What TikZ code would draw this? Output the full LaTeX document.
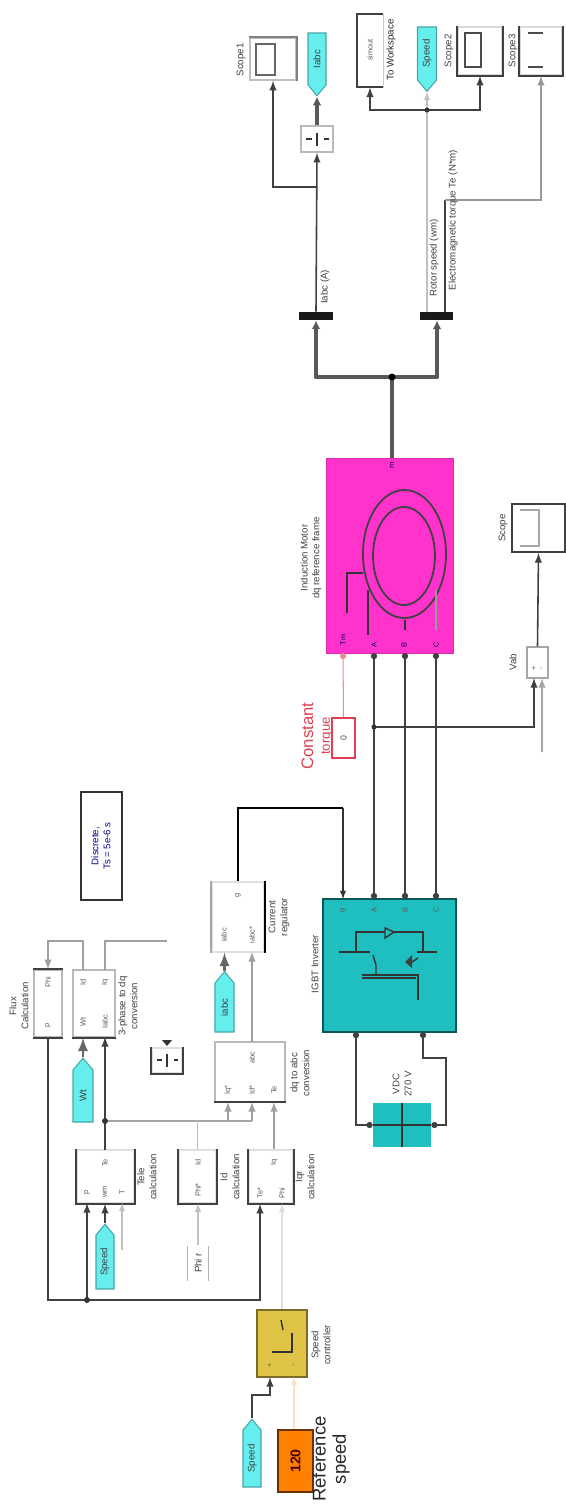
\documentclass[tikz,border=0pt]{standalone}
\usepackage{fontspec}
\setmainfont{Liberation Sans}
\usetikzlibrary{arrows.meta,shapes.symbols}
\definecolor{tagcyan}{HTML}{66EEEE}
\definecolor{igbtteal}{HTML}{1FBFBF}
\definecolor{motorpink}{HTML}{FF33CC}
\definecolor{ctlyellow}{HTML}{E0C448}
\definecolor{reforange}{HTML}{FF8000}
\definecolor{trqred}{HTML}{E04050}
\tikzset{
	sized/.style 2 args={minimum width=#1*0.02cm, minimum height=#2*0.02cm, inner sep=0pt},
	block/.style={draw=gray!55, line width=0.8pt, fill=white},
	edge/.style={draw=black!75, line width=1pt},
	tagbox/.style={shape=signal, signal from=nowhere, signal pointer angle=80, fill=tagcyan, draw=tagcyan!70!black, line width=0.6pt, inner sep=0pt},
	lab/.style={rotate=90, align=center, font=\fontsize{5.5}{6.8}\selectfont, text=black!75},
	portlab/.style={rotate=90, font=\fontsize{4.2}{5}\selectfont, text=black!65},
	wire/.style={->, line width=0.9pt, draw=black!75},
	faint/.style={->, line width=0.6pt, draw=gray!50},
	plainwire/.style={line width=0.9pt, draw=black!75},
	buswire/.style={line width=2.4pt, draw=black!65},
	powerwire/.style={{Circle[length=3.5pt]}-{Circle[length=3.5pt]}, line width=1pt, draw=black!75},
	sym/.style={line width=0.8pt, draw=black!80},
}
\begin{document}
\begin{tikzpicture}[>=latex, x=0.02cm, y=-0.02cm]
	\useasboundingbox (0,0) rectangle (565,1505);

	% 1. speed reference and controller
	\node[tagbox, signal to=north, sized={18}{57}, label={[lab]center:Speed}] (spdin) at (252,1458.5) {};
	\node[draw=black!60!reforange, fill=reforange, line width=1pt, sized={35}{62}] (refspd) at (295.5,1461) {};
	\node[rotate=90, font=\fontsize{8}{9}\bfseries\selectfont, text=black!70!red] (reftxt) at (295.5,1461) {120};
	\node[rotate=90, align=center, font=\fontsize{10.5}{11.5}\selectfont, text=black!85] (reflab) at (331,1459) {Reference\\speed};
	\node[draw=black!45!ctlyellow, fill=ctlyellow, line width=1pt, sized={50}{67}] (ctl) at (282,1343.5) {};
	\draw[sym] (272,1352) -- (292,1352) -- (292,1333);
	\draw[sym] (281,1320) -- (283,1330);
	\node[lab] (ctllab) at (321,1345) {Speed\\controller};
	\coordinate (ctlin1) at (270,1377);
	\coordinate (ctlin2) at (294,1377);
	\coordinate (spdkink) at (270,1395);
	\draw[wire] (spdin.north) |- (spdkink) -- (ctlin1);
	\draw[faint, draw=orange!25] (refspd.north -| ctlin2) -- (ctlin2);

	% 2. calculation blocks
	\node[block, draw=gray!25, sized={57}{53}] (tele) at (105.5,1176.5) {};
	\draw[edge] (tele.north west) -- (tele.south west) -- (tele.south east) -- (tele.north east);
	\node[block, draw=gray!25, sized={37}{53}] (idcalc) at (197.5,1176.5) {};
	\draw[edge] (idcalc.north west) -- (idcalc.south west) -- (idcalc.south east) -- (idcalc.north east);
	\node[block, draw=gray!25, sized={44}{53}] (iqcalc) at (271,1176.5) {};
	\draw[edge] (iqcalc.north west) -- (iqcalc.south west) -- (iqcalc.south east) -- (iqcalc.north east);
	\node[lab] (telelab) at (147,1177) {Tele\\calculation};
	\node[lab] (idlab) at (230,1177) {Id\\calculation};
	\node[lab] (iqlab) at (305,1177) {Iqr\\calculation};

	\node[block, sized={70}{60}] (dqabc) at (250,1072) {};
	\draw[edge] (214,1102) -- (286,1102);
	\node[lab] (dqlab) at (300,1073) {dq to abc\\conversion};
	\node[block, draw=gray!25, sized={52}{70}] (curreg) at (238,917) {};
	\draw[edge, draw=gray!70] (curreg.north west) -- (curreg.south west);
	\draw[edge, draw=black] (curreg.north east) -- (curreg.south east);
	\node[lab] (curlab) at (279,917) {Current\\regulator};

	\node[block, sized={28}{67}] (flux) at (48,1003.5) {};
	\draw[edge] (flux.north west) -- (flux.north east);
	\draw[edge] (flux.south west) -- (flux.south east);
	\node[lab] (fluxlab) at (19,1006) {Flux\\Calculation};
	\node[block, sized={42}{67}] (conv) at (94,1003.5) {};
	\draw[edge] (conv.south west) -- (conv.south east);
	\node[lab] (convlab) at (128,1006) {3-phase to dq\\conversion};

	\node[draw=black!80, line width=1pt, sized={41}{108}] (info) at (101.5,846) {};
	\node[lab, text=blue!60!black] (infotxt) at (101,846) {Discrete,\\Ts = 5e-6 s};

	\node[block, draw=gray!25, sized={30}{25}] (smallblk) at (167,1060.5) {};
	\draw[edge] (smallblk.north west) -- (smallblk.south west) -- (smallblk.south east) -- (smallblk.north east);
	\draw[sym] (157,1060) -- (162,1060) (167,1054) -- (167,1067) (174,1060) -- (178,1060);
	\fill[black!80] (167,1046) -- (162,1040) -- (172,1040) -- cycle;

	\node[draw=gray!60, fill=white, sized={21}{37}] (fluxref) at (198,1263.5) {};
	\draw[draw=white, line width=2pt] (fluxref.north west) -- (fluxref.north east);
	\draw[draw=white, line width=2pt] (fluxref.south west) -- (fluxref.south east);
	\node[lab] (fluxreftxt) at (198,1263) {Phi r};

	% 3. tags on the control side
	\node[tagbox, signal to=north, sized={18}{54}, label={[lab]center:Speed}] (spdtele) at (105,1262) {};
	\node[tagbox, signal to=north, sized={20}{52}, label={[lab]center:Wt}] (thetatag) at (83,1096) {};
	\node[tagbox, signal to=north, sized={19}{49}, label={[lab]center:iabc}] (abctag) at (224.5,1007.5) {};

	% 4. control wiring
	\coordinate (busturn) at (260,1300);
	\coordinate (teleout) at (105,1150);
	\coordinate (convin2) at (105,1037);
	\coordinate (convout1) at (83,970);
	\coordinate (convout2) at (105,970);
	\coordinate (convturn1) at (83,941);
	\coordinate (convturn2) at (167,941);
	\coordinate (tejoin) at (105,1121);
	\coordinate (tejoinend) at (252,1121);
	\coordinate (dqin1) at (228,1102);
	\coordinate (dqin2) at (252,1102);
	\coordinate (dqin3) at (274,1102);
	\coordinate (dqout) at (252,1042);
	\coordinate (curin2) at (252,952);
	\coordinate (igbtgate) at (343,899);
	\coordinate (gateturn) at (343,808);

	\draw[wire] (flux.south) |- (busturn) -- (busturn |- iqcalc.south);
	\draw[wire] (87,1300) -- (87,1203);
	\fill[black!80] (87,1300) circle (3);
	\draw[wire] (spdtele.north) -- (teleout |- tele.south);
	\draw[faint] (122,1250) -- (122,1203);
	\draw[wire, line width=1.6pt, draw=black!60] (thetatag.north) -- (thetatag.north |- flux.south);
	\draw[wire] (teleout) -- (convin2);
	\draw[plainwire, draw=gray!70] (tejoin) -- (tejoinend);
	\fill[black!80] (tejoin) circle (3);
	\draw[wire, draw=gray!75] (228,1121) -- (dqin1);
	\draw[wire, draw=gray!75] (tejoinend) -- (dqin2);
	\draw[faint, -] (idcalc.north) -- (idcalc.north |- tejoin);
	\draw[wire, draw=gray!75] (dqin3 |- iqcalc.north) -- (dqin3);
	\draw[faint] (fluxref.north) -- (fluxref.north |- idcalc.south);
	\draw[faint, draw=gray!25] (ctl.north) -- (ctl.north |- iqcalc.south);
	\draw[wire, draw=gray!75] (convout1) |- (convturn1) -| (flux.north);
	\draw[plainwire, draw=gray!75] (convout2) |- (convturn2);
	\draw[wire, line width=1.6pt, draw=black!60] (abctag.north) -- (abctag.north |- curreg.south);
	\draw[wire, draw=gray!75] (dqout) -- (curin2);
	\draw[plainwire, draw=black] (curreg.north) |- (gateturn);
	\draw[faint, draw=black!80] (gateturn) -- (igbtgate);

	% 5. inverter and dc source
	\node[draw=black!55!igbtteal, fill=igbtteal, line width=0.8pt, sized={133}{133}] (igbt) at (389.5,965.5) {};
	\draw[sym] (339,952) -- (370,952) (417,952) -- (437,952) (356,952) -- (356,932) -- (423,932) -- (423,952);
	\draw[sym, fill=igbtteal] (385,928) -- (394,932) -- (385,938) -- cycle;
	\draw[sym] (373,955) -- (376,965) -- (376,974);
	\draw[sym] (362,975) -- (418,975) -- (418,1000) (362,978) -- (416,978);
	\fill[black!75] (405,962) -- (412,955) -- (412,968) -- cycle;
	\draw[sym] (412,962) -- (418,958);
	\node[lab] (igbtlab) at (315,964) {IGBT Inverter};
	\node[draw=none, fill=igbtteal, sized={58}{44}] (vdc) at (402,1125) {};
	\draw[sym] (vdc.north) -- (vdc.south);
	\draw[sym] (vdc.west) -- (vdc.east);
	\node[lab] (vdclab) at (402,1084) {VDC\\270 V};
	\coordinate (igbtneg) at (356,1032);
	\coordinate (igbtpos) at (423,1032);
	\coordinate (posturn) at (446,1058);
	\draw[powerwire] (igbtneg) |- (vdc.west);
	\draw[powerwire] (igbtpos) |- (posturn) |- (vdc.east);

	% 6. motor
	\node[draw=motorpink!85!black, fill=motorpink, sized={127}{195}] (motor) at (389.5,555.5) {};
	\draw[sym, line width=1pt, draw=black!75] (404.5,554) ellipse (41.5 and 64);
	\draw[sym, line width=1pt, draw=black!75] (404,556) ellipse (31 and 49);
	\draw[sym] (347,613) -- (347,573) -- (363,573);
	\draw[sym] (368,590) -- (368,635);
	\draw[sym] (405,620) -- (405,630);
	\draw[sym, draw=black!40] (436,590) -- (436,630);
	\foreach \px/\py/\ptxt [count=\i] in {343/640/Tm, 374/645/A, 404/645/B, 436/645/C, 392/465/m}
		\node[portlab, text=black!70!blue] (mport\i) at (\px,\py) {\ptxt};
	\node[lab] (motorlab) at (311,558) {Induction Motor\\dq reference frame};
	\node[draw=trqred, line width=1pt, fill=white, sized={23}{40}] (torque) at (343.5,738) {};
	\node[rotate=90, font=\fontsize{5}{6}\selectfont, text=black!70] (torquetxt) at (343.5,738) {0};
	\node[rotate=90, align=center, text=trqred, font=\fontsize{9.5}{10.5}\selectfont] (torquelab) at (317,736) {Constant\\[-1pt]{\fontsize{7.5}{8}\selectfont torque}};
	\coordinate (tmport) at (343,653);
	\draw[faint, draw=trqred!60, {Circle[length=0pt]}-{Circle[length=3.5pt]}] (torque.north) -- (tmport);

	% 7. motor to inverter, line voltage scope
	\foreach \px [count=\i] in {374,405,436} {
		\coordinate (mo\i) at (\px,653);
		\coordinate (ig\i) at (\px,899);
		\draw[powerwire] (mo\i) -- (ig\i);
	}
	\node[block, draw=gray!70, sized={21}{31}] (vab) at (537.5,662.5) {};
	\node[lab] (vablab) at (513,662) {Vab};
	\node[draw=black!75, line width=1pt, fill=white, sized={53}{48}] (scopea) at (538.5,528) {};
	\draw[sym, draw=gray!70] (520,510) -- (539,510) -- (539,546) -- (520,546);
	\node[lab] (scopealab) at (503,528) {Scope};
	\coordinate (vabin1) at (534,678);
	\coordinate (vabin2) at (542,678);
	\coordinate (vabjoin) at (374,727);
	\coordinate (vabfree) at (542,752);
	\draw[wire] (vabjoin) -| (vabin1);
	\fill[black!80] (vabjoin) circle (2.5);
	\draw[wire, draw=gray!70] (vabfree) -- (vabin2);
	\draw[wire] (vab.north) -- (scopea.south);

	% 8. outputs of the motor
	\node[fill=black!90, sized={34}{8}] (demuxa) at (316,316) {};
	\node[fill=black!90, sized={33}{8}] (demuxb) at (436.5,316) {};
	\coordinate (motorout) at (392,458);
	\coordinate (busmid) at (392,377);
	\coordinate (busa) at (316,377);
	\coordinate (busb) at (437,377);
	\draw[buswire] (motorout) -- (busmid);
	\draw[buswire, line cap=round] (busa) -- (busb);
	\draw[buswire, -{Latex[length=5pt,width=5pt]}] (busa) -- (demuxa.south);
	\draw[buswire, -{Latex[length=5pt,width=5pt]}] (busb) -- (busb |- demuxb.south);
	\fill[black] (busmid) circle (3.5);

	\node[block, sized={32}{26}] (muxa) at (317,139) {};
	\draw[sym] (306,139) -- (312,139) (317,133) -- (317,146) (324,139) -- (329,139);
	\node[tagbox, signal to=south, sized={18}{52}, label={[lab]center:Iabc}] (tagiabc) at (317,59) {};
	\node[block, draw=gray!50, sized={46}{42}] (scopeb) at (273,59) {};
	\draw[edge, draw=black!50] (scopeb.south east) -- (scopeb.north east) -- (scopeb.north west);
	\draw[sym, draw=black!60] (256,44) rectangle (275,75);
	\node[lab] (scopeblab) at (241,60) {Scope1};
	\coordinate (scopebjoin) at (317,187);
	\draw[wire] (demuxa.north) -- (muxa.south);
	\draw[buswire, line width=2pt, -{Latex[length=5pt,width=5pt]}] (muxa.north) -- (tagiabc.south);
	\draw[wire] (scopebjoin) -| (scopeb.south);
	\node[lab] (ilab) at (325,287) {Iabc (A)};

	\node[draw=gray!40, fill=white, sized={26}{73}] (wsp) at (370,50.5) {};
	\draw[edge] (383,14) -- (357,14) -- (357,87) -- (383,87);
	\node[portlab] (wsptxt) at (370,50) {simout};
	\node[lab, text=black!85] (wsplab) at (391,50) {To Workspace};
	\node[tagbox, signal to=south, sized={19}{53}, label={[lab]center:Speed}] (tagspd) at (427,53.5) {};
	\node[block, draw=gray!30, sized={44}{48}] (scopec) at (480,51) {};
	\draw[edge] (scopec.north west) -- (scopec.south west) -- (scopec.south east) -- (scopec.north east);
	\draw[sym, line width=1.2pt, draw=black!70] (465,33) rectangle (481,67);
	\node[lab] (scopeclab) at (449,51) {Scope2};
	\node[block, draw=gray!30, sized={42}{48}] (scoped) at (541,51) {};
	\draw[edge] (scoped.north west) -- (scoped.south west) -- (scoped.south east) -- (scoped.north east);
	\draw[sym, line width=1.2pt, draw=black!70] (528,33) -- (543,33) (528,67) -- (543,67);
	\node[lab] (scopedlab) at (513,51) {Scope3};

	\coordinate (demuxout1) at (427,312);
	\coordinate (demuxout2) at (445,312);
	\coordinate (spdjoin) at (427,110);
	\coordinate (temturn) at (445,200);
	\draw[faint] (demuxout1) -- (tagspd.south);
	\draw[wire] (spdjoin) -| (wsp.south);
	\draw[wire] (spdjoin) -| (scopec.south);
	\fill[black!80] (spdjoin) circle (2.5);
	\draw[plainwire, line width=1.1pt] (demuxout2) -- (temturn);
	\draw[wire, draw=gray!80] (temturn) -| (scoped.south);
	\node[lab] (spdlab) at (434,258) {Rotor speed (wm)};
	\node[lab] (temlab) at (453,220) {Electromagnetic torque Te (N*m)};

	% 9. small labels on the block ports
	\foreach \px/\py/\ptxt [count=\i] in {87/1192/p, 105/1192/wm, 122/1192/T, 105/1163/Te, 198/1190/Phi*, 198/1162/Id, 260/1193/Te*, 282/1193/Phi, 274/1162/Iq, 228/1090/Iq*, 252/1090/Id*, 274/1090/Te, 252/1058/abc, 224/935/iabc, 252/935/iabc*, 238/895/g, 48/1025/p, 48/982/Phi, 83/1022/Wt, 105/1022/Iabc, 83/982/Id, 105/982/Iq, 343/910/g, 374/910/A, 405/910/B, 436/910/C, 270/1365/+, 294/1365/-, 534/668/+, 542/668/-}
		\node[portlab] (bport\i) at (\px,\py) {\ptxt};
\end{tikzpicture}
\end{document}
